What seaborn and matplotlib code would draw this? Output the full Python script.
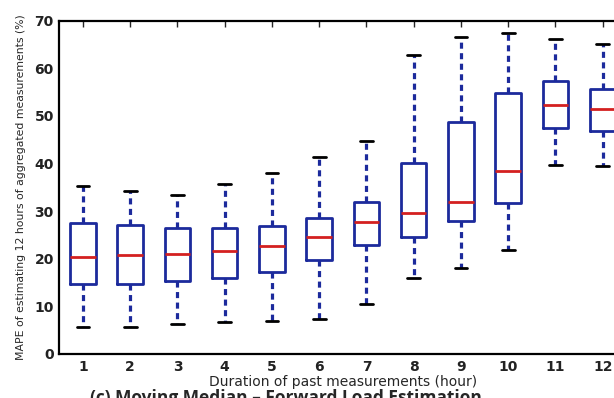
import numpy as np
import pandas as pd
import seaborn as sns
import matplotlib
matplotlib.use("Agg")
import matplotlib.pyplot as plt

# duration of past measurements (hour)
hours = [1, 2, 3, 4, 5, 6, 7, 8, 9, 10, 11, 12]

# box statistics (MAPE %)
whisker_low = [5.7, 5.7, 6.4, 6.7, 6.9, 7.3, 10.5, 16.0, 18.0, 21.9, 39.6, 39.5]
q1 = [14.6, 14.8, 15.3, 16.0, 17.2, 19.7, 22.8, 24.6, 27.9, 31.7, 47.4, 46.8]
median = [20.3, 20.7, 20.9, 21.6, 22.6, 24.6, 27.8, 29.6, 31.9, 38.4, 52.3, 51.5]
q3 = [27.5, 27.1, 26.5, 26.5, 26.9, 28.6, 31.9, 40.1, 48.7, 54.8, 57.4, 55.6]
whisker_high = [35.3, 34.3, 33.4, 35.8, 38.0, 41.4, 44.8, 62.8, 66.6, 67.4, 66.2, 65.2]

# long table: five values per hour give exactly these quartiles
rows = []
for i, h in enumerate(hours):
    for v in (whisker_low[i], q1[i], median[i], q3[i], whisker_high[i]):
        rows.append({"hour": str(h), "mape": v})
df = pd.DataFrame(rows)

sns.set_style("white")
plt.rcParams["font.family"] = ["DejaVu Sans"]

fig = plt.figure(figsize=(6.14, 3.98), dpi=100)
ax = fig.add_axes([0.0966, 0.1106, 0.9235, 0.8374])

blue = "#1c2a9c"
sns.boxplot(data=df, x="hour", y="mape", order=[str(h) for h in hours],
            whis=(0, 100), width=0.54, fill=False, showfliers=False, ax=ax,
            boxprops=dict(color=blue, linewidth=2),
            medianprops=dict(color="#d42020", linewidth=2),
            whiskerprops=dict(color=blue, linewidth=2.3, linestyle=(0, (1.9, 1.4))),
            capprops=dict(color="black", linewidth=2))

ax.set_xlim(-0.5, 11.5)
ax.set_ylim(0, 70)
ax.set_yticks(range(0, 71, 10))
ax.set_xticks(range(len(hours)))
ax.set_xticklabels([str(h) for h in hours])
for lab in ax.get_xticklabels() + ax.get_yticklabels():
    lab.set_fontweight("bold")
    lab.set_fontsize(10)
    lab.set_color("#222222")
ax.tick_params(direction="in", top=True, right=True, length=4, width=1, pad=4)

for sp in ax.spines.values():
    sp.set_color("black")
    sp.set_linewidth(1.6)

ax.set_xlabel("Duration of past measurements (hour)", fontsize=10, labelpad=1)
ax.set_ylabel("MAPE of estimating 12 hours of aggregated measurements (%)", fontsize=7.8, labelpad=6)

# caption of the sub-figure, cut by the lower edge as in the source
fig.text(0.465, 0.022, "(c) Moving Median \u2013 Forward Load Estimation",
         ha="center", va="top", fontsize=12.5, fontweight="bold",
         family=["Open Sans", "DejaVu Sans"])

fig.savefig("out.png", dpi=100)
